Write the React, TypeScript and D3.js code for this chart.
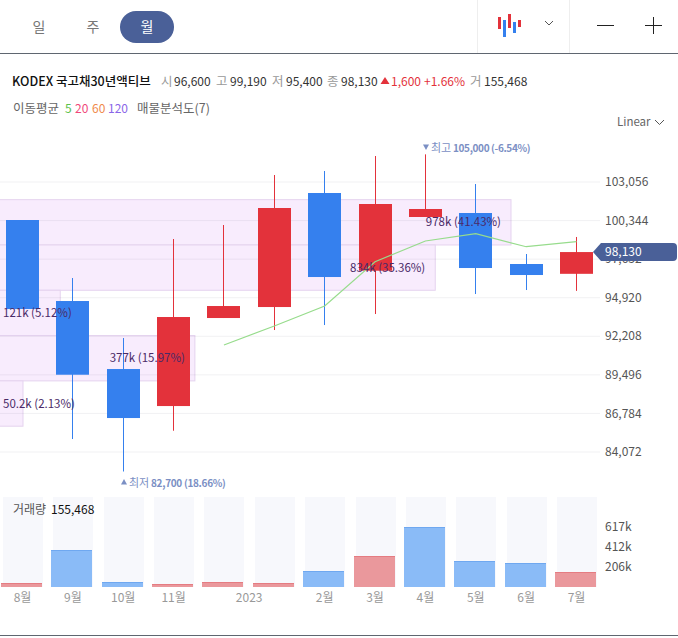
import * as d3 from 'd3';

const months = ['8월', '9월', '10월', '11월', '12월', '1월', '2월', '3월', '4월', '5월', '6월', '7월'];
const opens = [100384, 94688, 89906, 87303, 93492, 94265, 102282, 96818, 100595, 100876, 97290, 96600];
const closes = [94125, 89505, 86460, 93563, 94336, 101228, 96375, 101509, 101157, 97008, 96516, 98130];
const highs = [100384, 96305, 92086, 99048, 100032, 103548, 103830, 104884, 105000, 102915, 97993, 99190];
const lows = [94125, 84983, 82700, 85567, 93492, 92648, 92999, 93773, 100595, 95180, 95461, 95400];
const volumes = [40000, 378000, 50000, 30000, 50000, 40000, 163000, 316000, 612000, 265000, 245000, 155468];
const volumeUp = [true, false, false, true, true, true, false, true, false, false, false, true];
const ma5Months = ['12월', '1월', '2월', '3월', '4월', '5월', '6월', '7월'];
const ma5Values = [91594, 92930, 94336, 97452, 98907, 99420, 98506, 98858];
const priceTicks = [103056, 100344, 97632, 94920, 92208, 89496, 86784, 84072];
const volumeTicks = [617000, 412000, 206000];
const profileVolumes = [0, 978000, 834000, 121000, 377000, 50200, 0];
const profileLabels = ['', '978k (41.43%)', '834k (35.36%)', '121k (5.12%)', '377k (15.97%)', '50.2k (2.13%)', ''];
const axisMonths = ['8월', '9월', '10월', '11월', '2월', '3월', '4월', '5월', '6월', '7월'];

const FONT = '"Noto Sans CJK KR", "Noto Sans", sans-serif';
const RED = '#e3323b';
const BLUE = '#3580ee';
const NAVY = '#4a6098';
const MARK = '#7b8fc4';
const RULE = '#5f6670';

const x = d3.scalePoint<string>().domain(months).range([22.5, 576.5]);
const y = d3.scaleLinear().domain([84072, 103056]).range([452, 182]);
const yVol = d3.scaleLinear().domain([0, 617000]).range([587, 526.5]);
const xProfile = d3.scaleLinear().domain([0, 978000]).range([-3.4, 511]);
const bandEdges = d3.scaleLinear().domain([0, 7]).range([y(105000), y(82700)]);
const fmt = d3.format(',');
const fmtK = (v: number) => `${Math.round(v / 1000)}k`;
// left edge of a candle body, snapped to the pixel grid
const bodyLeft = (m: string) => Math.round(x(m)! - 16.5);

const maLine = d3.line<number>()
  .x((_, i) => x(ma5Months[i])!)
  .y((d) => y(d));

export default function App() {
  return (
    <svg
      width={678}
      height={638}
      style={{ position: 'absolute', left: 0, top: 0, fontFamily: FONT, background: '#fff' }}
    >
      {/* Header */}
      <rect x={120} y={11} width={54} height={32} rx={16} fill={NAVY} />
      <text x={39} y={27} dy="0.35em" textAnchor="middle" fontSize={14} fill="#777">일</text>
      <text x={93} y={27} dy="0.35em" textAnchor="middle" fontSize={14} fill="#777">주</text>
      <text x={147} y={27} dy="0.35em" textAnchor="middle" fontSize={14} fill="#fff">월</text>
      <line x1={477.5} x2={477.5} y1={0} y2={53} stroke="#eeeeee" />
      <line x1={569.5} x2={569.5} y1={0} y2={53} stroke="#eeeeee" />
      <line x1={0} x2={678} y1={53.5} y2={53.5} stroke={RULE} />
      <rect x={498} y={17} width={3} height={12} fill={RED} />
      <rect x={503} y={20} width={3} height={17} fill={BLUE} />
      <rect x={508} y={14} width={3} height={14} fill={RED} />
      <rect x={513} y={22} width={3} height={11} fill={BLUE} />
      <rect x={518} y={20} width={3} height={7} fill={RED} />
      <path d="M545 21 L549 25 L553 21" fill="none" stroke="#555" />
      <line x1={597} x2={614} y1={25.5} y2={25.5} stroke="#222" />
      <line x1={645} x2={662} y1={25.5} y2={25.5} stroke="#222" />
      <line x1={653.5} x2={653.5} y1={17} y2={34} stroke="#222" />

      {/* Info lines */}
      <g fontSize={12.5} dominantBaseline="central">
        <text x={12} y={80} fill="#111" fontWeight={500}>KODEX 국고채30년액티브</text>
        <text x={161} y={80} fill="#999">시</text>
        <text x={216} y={80} fill="#999">고</text>
        <text x={272} y={80} fill="#999">저</text>
        <text x={327} y={80} fill="#999">종</text>
        <text x={470} y={80} fill="#999">거</text>
      </g>
      <g fontSize={12} dominantBaseline="central">
        <text x={174} y={80} fill="#333">96,600</text>
        <text x={230} y={80} fill="#333">99,190</text>
        <text x={286} y={80} fill="#333">95,400</text>
        <text x={341} y={80} fill="#333">98,130</text>
        <path d="M380.5 84 L385 77 L389.5 84 Z" fill={RED} />
        <text x={391} y={80} fill={RED}>1,600</text>
        <text x={424} y={80} fill={RED}>+1.66%</text>
        <text x={484} y={80} fill="#333">155,468</text>
      </g>
      <g fontSize={12} dominantBaseline="central">
        <text x={13} y={107} fill="#666" fontSize={12.5}>이동평균</text>
        <text x={65} y={107} fill="#5cc24c">5</text>
        <text x={75} y={107} fill="#f0487a">20</text>
        <text x={92} y={107} fill="#f08a4b">60</text>
        <text x={108} y={107} fill="#8a66e8">120</text>
        <text x={137} y={107} fill="#666" fontSize={12.5}>매물분석도(7)</text>
        <text x={617} y={121} fill="#666" fontSize={11.5}>Linear</text>
      </g>
      <path d="M655 120 L659.5 124.5 L664 120" fill="none" stroke="#555" />

      {/* Volume profile */}
      {profileVolumes.map((v, i) =>
        v > 0 ? (
          <rect
            key={i}
            x={-2}
            y={bandEdges(i)}
            width={xProfile(v) + 2}
            height={bandEdges(i + 1) - bandEdges(i)}
            fill="#f8ecfd"
            stroke="#e5d3ef"
          />
        ) : null
      )}

      {/* Grid and price axis */}
      {priceTicks.map((t) => (
        <g key={t}>
          <line x1={0} x2={600} y1={y(t)} y2={y(t)} stroke="#3c3c5a" strokeOpacity={0.07} />
          <text x={605} y={y(t)} dy="0.35em" fontSize={12} fill="#555">{fmt(t)}</text>
        </g>
      ))}

      {/* Candles */}
      {months.map((m, i) => {
        const color = closes[i] >= opens[i] ? RED : BLUE;
        const top = Math.max(opens[i], closes[i]);
        const bottom = Math.min(opens[i], closes[i]);
        const left = bodyLeft(m);
        return (
          <g key={m}>
            <line x1={left + 16.5} x2={left + 16.5} y1={y(highs[i])} y2={y(lows[i])} stroke={color} />
            <rect x={left} y={y(top)} width={33} height={y(bottom) - y(top)} fill={color} />
          </g>
        );
      })}
      <path d={maLine(ma5Values)!} fill="none" stroke="#97dc8c" strokeWidth={1.2} />

      {/* Profile labels */}
      {profileVolumes.map((v, i) => {
        if (v === 0) return null;
        const end = xProfile(v) - 10;
        const small = end < 70;
        return (
          <text
            key={i}
            x={small ? 3 : end}
            y={(bandEdges(i) + bandEdges(i + 1)) / 2}
            dy="0.35em"
            textAnchor={small ? 'start' : 'end'}
            fontSize={11.5}
            fill="#4a2a68"
          >
            {profileLabels[i]}
          </text>
        );
      })}

      {/* High / low markers */}
      <g fontSize={11} fill={MARK} dominantBaseline="central">
        <path d="M423 144.5 L429 144.5 L426 150 Z" />
        <text x={431} y={147}>최고</text>
        <text x={453} y={147} fontWeight={700} fontSize={10} letterSpacing={-0.35}>105,000 (-6.54%)</text>
        <path d="M121 484.5 L127 484.5 L124 479 Z" />
        <text x={129} y={482}>최저</text>
        <text x={151} y={482} fontWeight={700} fontSize={10} letterSpacing={-0.3}>82,700 (18.66%)</text>
      </g>

      {/* Current price tag */}
      <path
        d={`M593 ${y(98130)} L601 243 L673 243 Q677 243 677 247 L677 257 Q677 261 673 261 L601 261 Z`}
        fill={NAVY}
      />
      <text x={605} y={y(98130)} dy="0.35em" fontSize={12} fill="#fff">{fmt(closes[11])}</text>

      {/* Volume pane */}
      {months.map((m) => (
        <rect key={m} x={bodyLeft(m) - 3} y={497} width={40} height={90} fill="#f7f8fc" />
      ))}
      {months.map((m, i) => {
        const up = volumeUp[i];
        const left = bodyLeft(m) - 5;
        const top = Math.round(yVol(volumes[i]));
        return (
          <g key={m}>
            <rect x={left} y={top} width={41} height={587 - top} fill={up ? '#ea989c' : '#8abbf7'} />
            <line x1={left} x2={left + 41} y1={top + 0.5} y2={top + 0.5} stroke={up ? '#e57c82' : '#6fa8f0'} />
          </g>
        );
      })}
      <text x={13} y={510} dy="0.35em" fontSize={12} fill="#555">거래량</text>
      <text x={51} y={510} dy="0.35em" fontSize={12} fill="#111">{fmt(volumes[11])}</text>
      {volumeTicks.map((t) => (
        <text key={t} x={605} y={yVol(t)} dy="0.35em" fontSize={12} fill="#555">{fmtK(t)}</text>
      ))}

      {/* Month axis */}
      <g fontSize={12} fill="#999" textAnchor="middle">
        {axisMonths.map((m) => (
          <text key={m} x={x(m)!} y={598} dy="0.35em">{m}</text>
        ))}
        <text x={(x('12월')! + x('1월')!) / 2} y={598} dy="0.35em">2023</text>
      </g>
      <line x1={0} x2={678} y1={635.5} y2={635.5} stroke={RULE} />
    </svg>
  );
}
